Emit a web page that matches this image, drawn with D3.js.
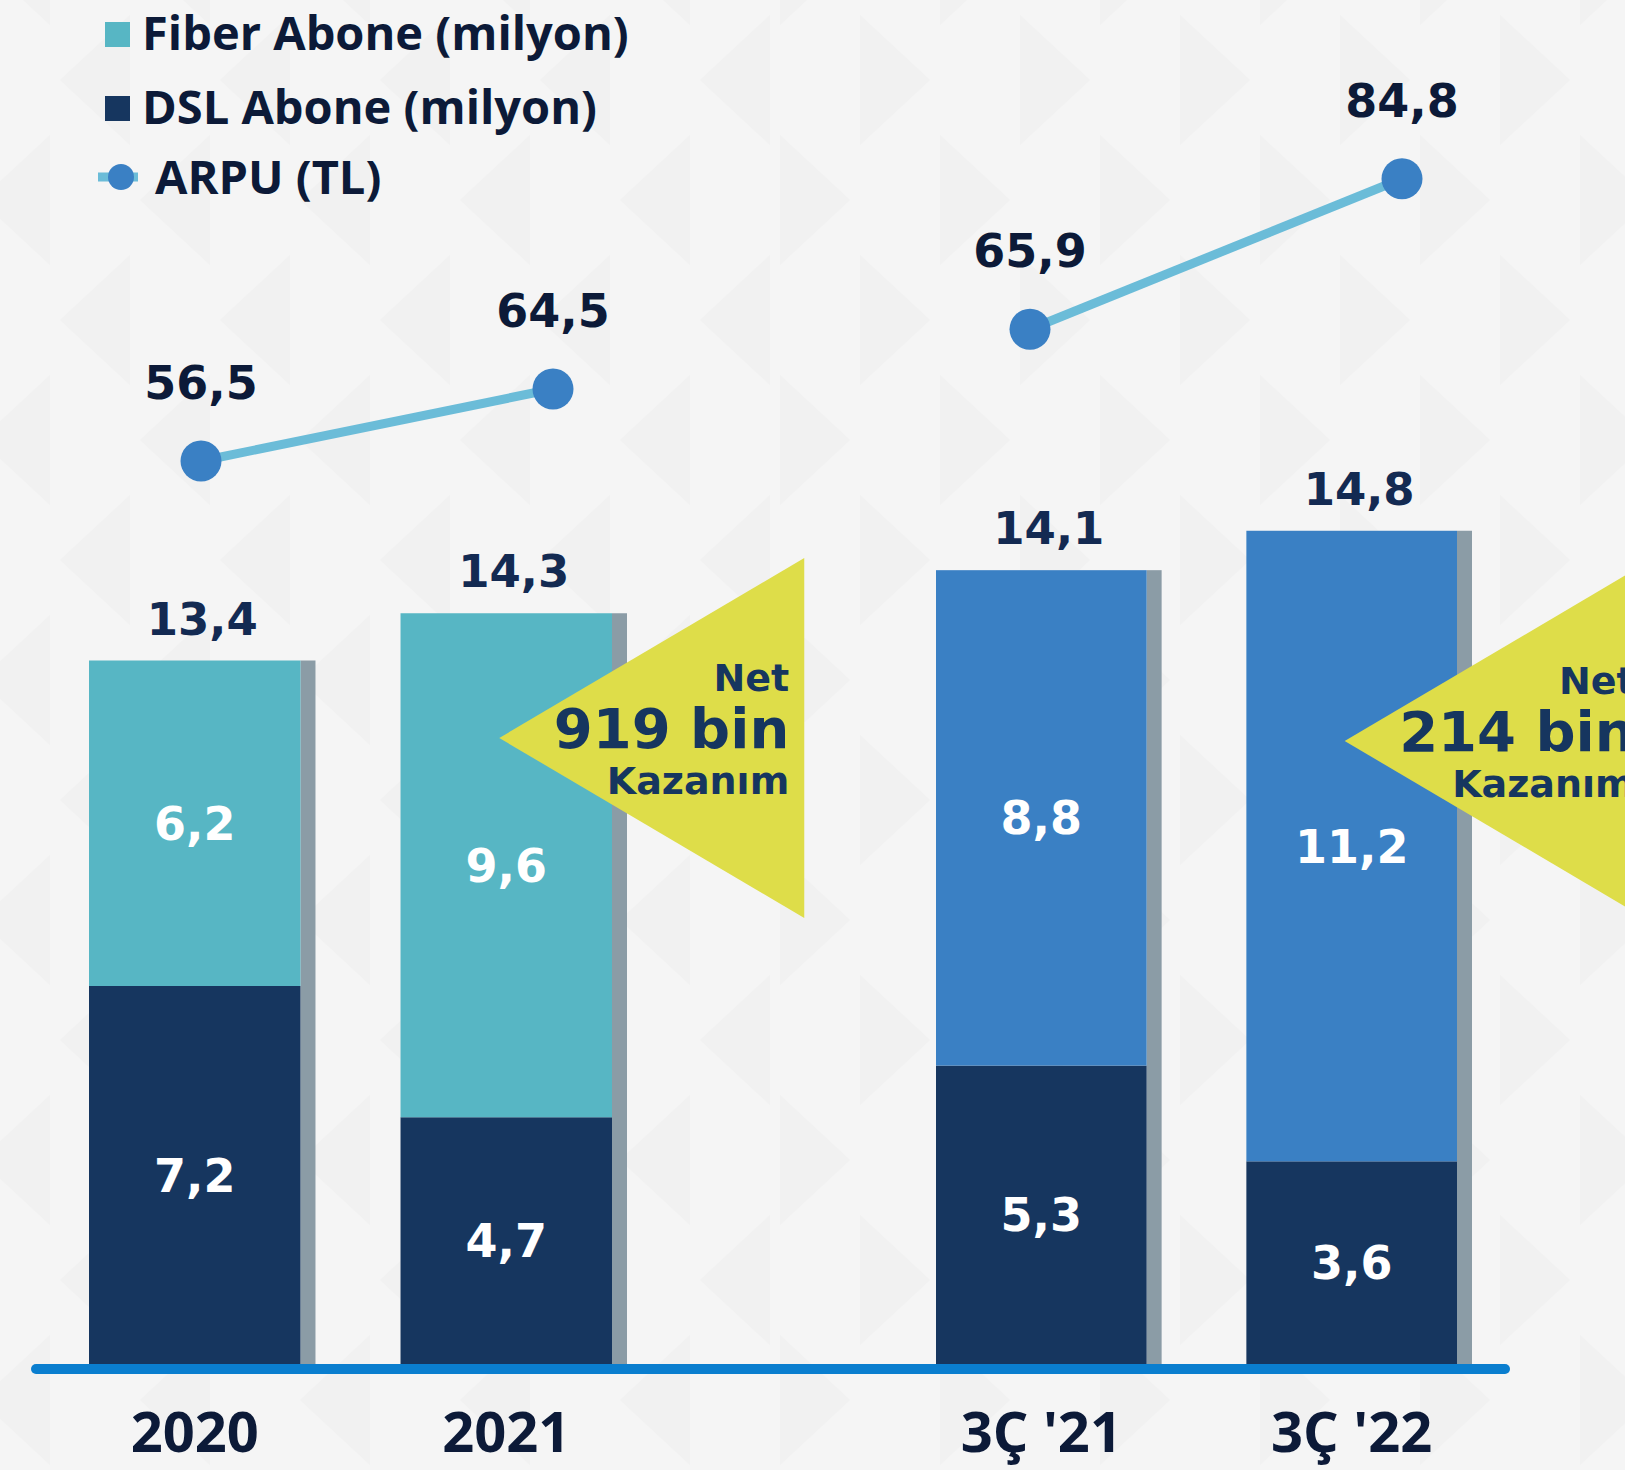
<!DOCTYPE html>
<html>
<head>
<meta charset="utf-8">
<script src="https://cdn.jsdelivr.net/npm/d3@7"></script>
<style>
  html, body { margin: 0; padding: 0; background: #f5f5f5; }
  svg { display: block; }
</style>
</head>
<body>
<div id="chart"></div>
<script>
// Data
const periods = ["2020", "2021", "3Ç '21", "3Ç '22"];
const fiberSubs = [6.2, 9.6, 8.8, 11.2];   // Fiber Abone (milyon)
const dslSubs = [7.2, 4.7, 5.3, 3.6];      // DSL Abone (milyon)
const totalSubs = [13.4, 14.3, 14.1, 14.8];
const arpu = [56.5, 64.5, 65.9, 84.8];     // ARPU (TL)
const netGain = ["919 bin", "214 bin"];
const legendLabels = ["Fiber Abone (milyon)", "DSL Abone (milyon)", "ARPU (TL)"];

const width = 1625, height = 1470;
const baseY = 1364; // bottom of the bars

// colours
const fiberColors = ["#57b6c4", "#3a80c4"]; // left panel, right panel
const dslColor = "#16365f";
const stripColor = "#8b9ca6";
const axisColor = "#0a7ecf";
const lineColor = "#6bbcd8";
const dotColor = "#3a80c4";
const textDark = "#0c1a38";
const calloutColor = "#dedd49";

const numFont = "'DejaVu Sans', sans-serif";
const labelFont = "'Open Sans', sans-serif";

const fmt = v => d3.format(".1f")(v).replace(".", ",");

const svg = d3.select("#chart")
    .append("svg")
    .attr("width", width)
    .attr("height", height);

// background with faint triangles
svg.append("rect").attr("width", width).attr("height", height).attr("fill", "#f5f5f5");
const bg = svg.append("g").attr("fill", "#000").attr("opacity", 0.012);
d3.range(0, 13).forEach(r => {
    d3.range(0, 12).forEach(c => {
        const cx = c * 160 + (r % 2) * 80 - 20;
        const cy = r * 120 - 40;
        const right = cx > 760;
        const w = 70, h = 130;
        const p = right
            ? `M${cx},${cy - h / 2}L${cx + w},${cy}L${cx},${cy + h / 2}Z`
            : `M${cx + w},${cy - h / 2}L${cx},${cy}L${cx + w},${cy + h / 2}Z`;
        bg.append("path").attr("d", p);
    });
});

// two panels: yearly and quarterly, each with its own scales
const panels = [
    { idx: [0, 1], xRange: [89, 627], yMax: 14, yTop: baseY - 14 * 52.5,
      lineX: [201, 553], arpuScale: d3.scaleLinear().domain([0, 80]).range([969.5, 249.5]) },
    { idx: [2, 3], xRange: [936, 1472], yMax: 14, yTop: baseY - 14 * 56.3,
      lineX: [1030, 1402], arpuScale: d3.scaleLinear().domain([0, 100]).range([854, 57.7]) }
];

const stripW = 15;

panels.forEach((p, pi) => {
    const cats = p.idx.map(i => periods[i]);
    const x = d3.scaleBand().domain(cats).range(p.xRange).paddingInner(0.273).paddingOuter(0);
    const y = d3.scaleLinear().domain([0, p.yMax]).range([baseY, p.yTop]);
    const xl = d3.scalePoint().domain(cats).range(p.lineX);
    const bw = x.bandwidth() - stripW;

    const rows = p.idx.map(i => ({
        cat: periods[i], fiber: fiberSubs[i], dsl: dslSubs[i], total: totalSubs[i], arpu: arpu[i]
    }));

    const g = svg.append("g");

    // gray strip on the right side of each bar
    g.selectAll(".strip").data(rows).enter().append("rect")
        .attr("x", d => x(d.cat) + bw)
        .attr("y", d => y(d.total))
        .attr("width", stripW)
        .attr("height", d => baseY - y(d.total))
        .attr("fill", stripColor);

    // DSL segment
    g.selectAll(".dsl").data(rows).enter().append("rect")
        .attr("x", d => x(d.cat))
        .attr("y", d => y(d.dsl))
        .attr("width", bw)
        .attr("height", d => baseY - y(d.dsl))
        .attr("fill", dslColor);

    // Fiber segment
    g.selectAll(".fiber").data(rows).enter().append("rect")
        .attr("x", d => x(d.cat))
        .attr("y", d => y(d.total))
        .attr("width", bw)
        .attr("height", d => y(d.dsl) - y(d.total))
        .attr("fill", fiberColors[pi]);

    // values inside segments
    g.selectAll(".dslLbl").data(rows).enter().append("text")
        .attr("x", d => x(d.cat) + bw / 2)
        .attr("y", d => (y(d.dsl) + baseY) / 2)
        .attr("dy", "0.36em")
        .attr("text-anchor", "middle")
        .attr("font-family", numFont).attr("font-weight", "bold")
        .attr("font-size", 46)
        .attr("fill", "#fff")
        .text(d => fmt(d.dsl));

    g.selectAll(".fibLbl").data(rows).enter().append("text")
        .attr("x", d => x(d.cat) + bw / 2)
        .attr("y", d => (y(d.dsl) + y(d.total)) / 2)
        .attr("dy", "0.36em")
        .attr("text-anchor", "middle")
        .attr("font-family", numFont).attr("font-weight", "bold")
        .attr("font-size", 46)
        .attr("fill", "#fff")
        .text(d => fmt(d.fiber));

    // totals above bars
    g.selectAll(".tot").data(rows).enter().append("text")
        .attr("x", d => x(d.cat) + x.bandwidth() / 2)
        .attr("y", d => y(d.total) - 26)
        .attr("text-anchor", "middle")
        .attr("font-family", numFont).attr("font-weight", "bold")
        .attr("font-size", 45)
        .attr("fill", "#132a52")
        .text(d => fmt(d.total));

    // category labels under the axis
    g.selectAll(".cat").data(rows).enter().append("text")
        .attr("x", d => x(d.cat) + bw / 2)
        .attr("y", 1452)
        .attr("text-anchor", "middle")
        .attr("font-family", labelFont).attr("font-weight", 700)
        .attr("font-size", 56)
        .attr("fill", textDark)
        .text(d => d.cat);

    // ARPU line
    const line = d3.line().x(d => xl(d.cat)).y(d => p.arpuScale(d.arpu));
    g.append("path").datum(rows)
        .attr("d", line)
        .attr("fill", "none")
        .attr("stroke", lineColor)
        .attr("stroke-width", 9);

    g.selectAll(".dot").data(rows).enter().append("circle")
        .attr("cx", d => xl(d.cat))
        .attr("cy", d => p.arpuScale(d.arpu))
        .attr("r", 20.5)
        .attr("fill", dotColor);

    g.selectAll(".arpuLbl").data(rows).enter().append("text")
        .attr("x", d => xl(d.cat))
        .attr("y", d => p.arpuScale(d.arpu) - 62)
        .attr("text-anchor", "middle")
        .attr("font-family", numFont).attr("font-weight", "bold")
        .attr("font-size", 46)
        .attr("fill", textDark)
        .text(d => fmt(d.arpu));

    // net gain callout pointing at the latest bar
    const last = rows[rows.length - 1];
    const tipX = x(last.cat) + bw / 2 - 7;
    const tipY = 738 + pi * 3;
    const cw = 305, ch = 180;
    const call = svg.append("g");
    call.append("path")
        .attr("d", `M${tipX},${tipY}L${tipX + cw},${tipY - ch}L${tipX + cw},${tipY + ch}Z`)
        .attr("fill", calloutColor);
    const tx = tipX + 290;
    [["Net", -47, 38], [netGain[pi], 10, 56], ["Kazanım", 56, 38]].forEach(([t, dy, fs]) => {
        call.append("text")
            .attr("x", tx).attr("y", tipY + dy)
            .attr("text-anchor", "end")
            .attr("font-family", numFont).attr("font-weight", "bold")
            .attr("font-size", fs)
            .attr("fill", dslColor)
            .text(t);
    });
});

// baseline
svg.append("line")
    .attr("x1", 36).attr("x2", 1505)
    .attr("y1", baseY + 5).attr("y2", baseY + 5)
    .attr("stroke", axisColor)
    .attr("stroke-width", 10)
    .attr("stroke-linecap", "round");

// legend
const legend = svg.append("g");
const legendBase = [50, 124, 194];
legend.append("rect").attr("x", 105).attr("y", legendBase[0] - 28).attr("width", 25).attr("height", 25).attr("fill", fiberColors[0]);
legend.append("rect").attr("x", 105).attr("y", legendBase[1] - 28).attr("width", 25).attr("height", 25).attr("fill", dslColor);
legend.append("line").attr("x1", 98).attr("x2", 138).attr("y1", legendBase[2] - 17).attr("y2", legendBase[2] - 17)
    .attr("stroke", lineColor).attr("stroke-width", 9);
legend.append("circle").attr("cx", 121).attr("cy", legendBase[2] - 17).attr("r", 13).attr("fill", dotColor);
legend.selectAll(".lt").data(legendLabels).enter().append("text")
    .attr("x", (d, i) => i === 2 ? 155 : 142)
    .attr("y", (d, i) => legendBase[i])
    .attr("font-family", labelFont).attr("font-weight", 700)
    .attr("font-size", 47)
    .attr("fill", textDark)
    .text(d => d);
</script>
</body>
</html>
